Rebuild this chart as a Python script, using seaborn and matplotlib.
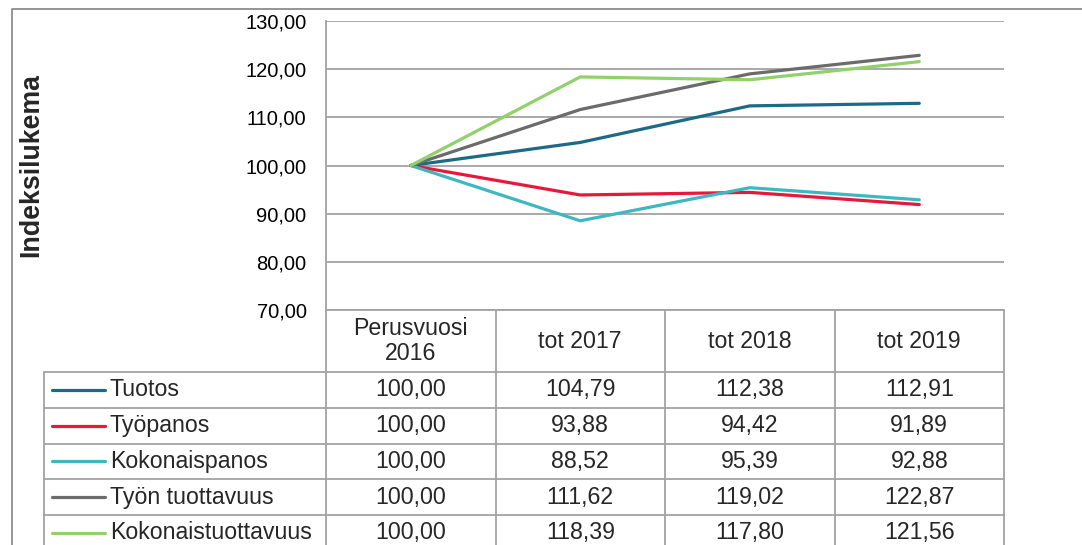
import pandas as pd
import matplotlib
matplotlib.use("Agg")
import matplotlib.pyplot as plt
import seaborn as sns

# Data
categories = ["Perusvuosi\n2016", "tot 2017", "tot 2018", "tot 2019"]
series = ["Tuotos", "Työpanos", "Kokonaispanos", "Työn tuottavuus", "Kokonaistuottavuus"]
tuotos = [100.00, 104.79, 112.38, 112.91]
tyopanos = [100.00, 93.88, 94.42, 91.89]
kokonaispanos = [100.00, 88.52, 95.39, 92.88]
tyon_tuottavuus = [100.00, 111.62, 119.02, 122.87]
kokonaistuottavuus = [100.00, 118.39, 117.80, 121.56]
colors = ["#1d6a86", "#e8173c", "#3fb7c1", "#6b6b6b", "#92d06b"]
y_ticks = [70, 80, 90, 100, 110, 120, 130]

values = [tuotos, tyopanos, kokonaispanos, tyon_tuottavuus, kokonaistuottavuus]
rows = []
for name, vals in zip(series, values):
    for i, v in enumerate(vals):
        rows.append({"series": name, "pos": i, "value": v})
df = pd.DataFrame(rows)


def fmt(v):
    return f"{v:.2f}".replace(".", ",")


sns.set_style("white")
plt.rcParams["font.family"] = ["Liberation Sans", "DejaVu Sans"]

W, H = 1082, 545
fig = plt.figure(figsize=(W / 100, H / 100), dpi=100)

# pixel overlay for frame + data table
ov = fig.add_axes([0, 0, 1, 1])
ov.set_xlim(0, W)
ov.set_ylim(H, 0)
ov.axis("off")

# plot area (pixels)
px_left, px_right, px_top, px_bottom = 326, 1004, 21, 310
ax = fig.add_axes([px_left / W, 1 - px_bottom / H,
                   (px_right - px_left) / W, (px_bottom - px_top) / H])
ax.patch.set_alpha(0)

sns.lineplot(data=df, x="pos", y="value", hue="series", hue_order=series,
             palette=colors, linewidth=2.3, legend=False, sort=False, ax=ax)

ax.set_xlim(-0.5, len(categories) - 0.5)
ax.set_ylim(y_ticks[0], y_ticks[-1])
ax.set_yticks(y_ticks)
ax.set_yticklabels([fmt(t) for t in y_ticks], fontsize=14.5)
ax.set_xticks([])
ax.set_xlabel("")
ax.set_ylabel("")
ax.tick_params(axis="y", length=0, pad=14, colors="black")
ax.yaxis.grid(True, color="#a3a3a3", linewidth=1.3)
ax.set_axisbelow(True)
for s in ["top", "right", "bottom"]:
    ax.spines[s].set_visible(False)
ax.spines["left"].set_color("#a3a3a3")
ax.spines["left"].set_linewidth(1.3)

fig.text(31.5 / W, 1 - 165 / H, "Indeksilukema", rotation=90, fontsize=19.3,
         fontweight="bold", ha="center", va="center")

# outer chart frame
ov.plot([12, 12, W], [H, 9, 9], color="#8c8c8c", lw=1.3)

# data table
line_c = "#a3a3a3"
col_w = (px_right - px_left) / len(categories)
col_edges = [px_left + col_w * i for i in range(len(categories) + 1)]
head_top, head_bot = 310, 372
row_h = 35.75
leg_left = 44
tfs = 16.7

ov.plot([px_left, px_right], [head_top, head_top], color=line_c, lw=1.3)
for x in col_edges:
    ov.plot([x, x], [head_top, H + 20], color=line_c, lw=1.3)
ov.plot([leg_left, leg_left], [head_bot, H + 20], color=line_c, lw=1.3)
for r in range(len(series)):
    y = head_bot + row_h * r
    ov.plot([leg_left, px_right], [y, y], color=line_c, lw=1.3)

for i, cat in enumerate(categories):
    cx = px_left + col_w * (i + 0.5)
    ov.text(cx, (head_top + head_bot) / 2, cat, ha="center", va="center",
            fontsize=tfs, linespacing=1.1)

for r, (name, vals, c) in enumerate(zip(series, values, colors)):
    cy = head_bot + row_h * (r + 0.5)
    ov.plot([52, 105], [cy, cy], color=c, lw=2.3, solid_capstyle="round")
    ov.text(110, cy, name, ha="left", va="center", fontsize=tfs)
    for i, v in enumerate(vals):
        cx = px_left + col_w * (i + 0.5)
        ov.text(cx, cy, fmt(v), ha="center", va="center", fontsize=tfs)

fig.savefig("out.png", dpi=100)
